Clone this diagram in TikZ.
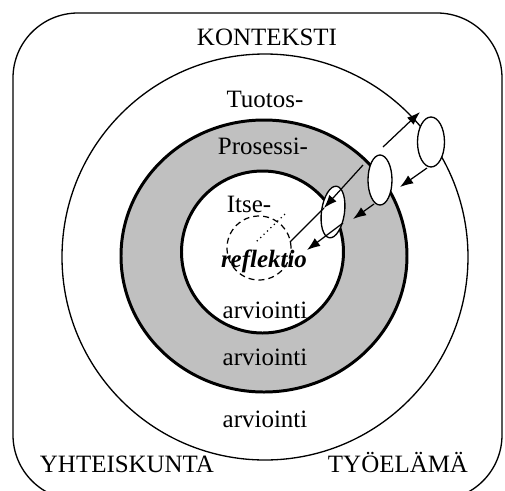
\documentclass[tikz,border=0pt]{standalone}
\usepackage{fontspec}
\setmainfont{Liberation Serif}
\usetikzlibrary{shapes.geometric,arrows.meta}
\definecolor{ringgray}{RGB}{192,192,192}

\begin{document}
\begin{tikzpicture}[
  every node/.style={font=\fontsize{14.2}{17}\selectfont},
  lbl/.style={anchor=base},
  tier/.style={draw, ellipse, fill=white, line width=0.75pt, inner sep=0pt},
  arr/.style={-{Latex[length=7.5pt,width=5.5pt]}, line width=0.7pt}]
\clip (-5.30,-4.66) rectangle (4.80,5.14);
% rings
\draw[line width=0.75pt, rounded corners=1.3cm] (-5.04,-4.86) rectangle (4.74,4.88);
\draw[line width=0.75pt] (0,0) circle (4.06);
\draw[line width=1.7pt, fill=ringgray] (-0.02,0.02) ellipse (2.86 and 2.72);
\draw[line width=1.7pt, fill=white] (-0.05,0.10) circle (1.62);
\draw[line width=0.7pt, dash pattern=on 3.4pt off 2.3pt] (-0.12,0.18) circle (0.64);

% texts
\node[lbl] (ctx) at (0.04,4.24) {KONTEKSTI};
\node[lbl] (prod) at (0,3.00) {Tuotos-};
\node[lbl] (proc) at (-0.04,2.06) {Prosessi-};
\node[lbl] (self) at (-0.32,0.90) {Itse-};
\node[lbl, font=\fontsize{14.2}{17}\selectfont\bfseries\itshape] (refl) at (-0.02,-0.20) {reflektio};
\node[lbl] (eval1) at (0,-1.22) {arviointi};
\node[lbl] (eval2) at (0,-2.16) {arviointi};
\node[lbl] (eval3) at (0,-3.40) {arviointi};
\node[lbl] (soc) at (-2.76,-4.30) {YHTEISKUNTA};
\node[lbl] (work) at (2.66,-4.30) {TYÖELÄMÄ};

% loops
\node[tier, minimum width=0.46cm, minimum height=1.04cm, rotate=-8] (e1) at (1.36,0.90) {};
\node[tier, minimum width=0.48cm, minimum height=1.00cm] (e2) at (2.30,1.54) {};
\node[tier, minimum width=0.54cm, minimum height=1.00cm] (e3) at (3.32,2.30) {};

\coordinate (a1s) at (2.36,2.20);
\coordinate (a1t) at (3.10,2.90);
\coordinate (a2s) at (3.24,1.78);
\coordinate (a2t) at (2.70,1.40);
\coordinate (a3s) at (1.96,1.84);
\coordinate (a3t) at (1.18,0.98);
\coordinate (a3e) at (0.50,0.30);
\coordinate (a4s) at (2.18,1.06);
\coordinate (a4t) at (1.76,0.76);
\coordinate (a5s) at (1.56,0.68);
\coordinate (a5t) at (0.84,0.14);
\coordinate (d1) at (0.40,0.86);
\coordinate (d2) at (-0.20,0.28);

\draw[arr] (a1s) -- (a1t);
\draw[arr] (a2s) -- (a2t);
\draw[arr] (a3s) -- (a3t);
\draw[line width=0.7pt] (a3t) -- (a3e);
\draw[arr] (a4s) -- (a4t);
\draw[arr] (a5s) -- (a5t);
\draw[line width=0.7pt, dotted] (d1) -- (d2);
\end{tikzpicture}
\end{document}
